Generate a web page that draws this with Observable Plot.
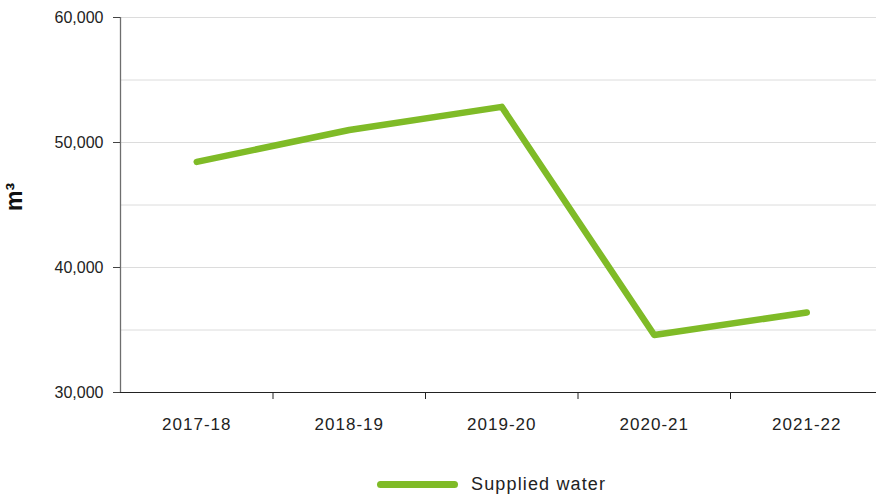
<!DOCTYPE html>
<html>
<head>
<meta charset="utf-8">
<script src="https://cdn.jsdelivr.net/npm/d3@7"></script>
<script src="https://cdn.jsdelivr.net/npm/@observablehq/plot@0.6"></script>
<style>
  html, body { margin: 0; padding: 0; background: #fff; overflow: hidden; }
  body { font-family: "Liberation Sans", Arial, Helvetica, sans-serif; }
  #legend { height: 34px; display: flex; align-items: center; padding-left: 377px; color: #222; }
  #legend .sw { display: inline-block; width: 81px; height: 7px; border-radius: 4px; background: #7fbb27; }
  #legend .lb { margin-left: 13px; font-size: 18px; letter-spacing: 1.15px; }
  g[aria-label="x-axis tick label"] text { letter-spacing: 1px; }
</style>
</head>
<body>
<div id="chart"></div>
<div id="legend"><span class="sw"></span><span class="lb">Supplied water</span></div>
<script>
const categories = ["2017-18", "2018-19", "2019-20", "2020-21", "2021-22"];
const suppliedWater = [48450, 51000, 52850, 34600, 36400];
const yTickValues = [30000, 40000, 50000, 60000];
const yGridValues = [35000, 40000, 45000, 50000, 55000, 60000];
const seriesName = "Supplied water";
const yLabel = "m³";

const data = categories.map((c, i) => ({i, category: c, value: suppliedWater[i]}));
const idx = categories.map((_, i) => i);
const boundaries = categories.slice(1).map((_, i) => i + 0.5);
const green = "#7fbb27";

const plot = Plot.plot({
  width: 876,
  height: 467,
  marginTop: 17,
  marginBottom: 75,
  marginLeft: 120,
  marginRight: 0,
  style: {fontFamily: "'Liberation Sans', Arial, Helvetica, sans-serif", color: "#222", background: "#fff", overflow: "visible"},
  x: {type: "linear", domain: [-0.5, categories.length - 0.5], range: [120, 882.5]},
  y: {domain: [30000, 60000]},
  marks: [
    Plot.ruleY(yGridValues, {stroke: "#dcdcdc", strokeWidth: 1}),
    Plot.ruleX([-0.5], {y1: 30000, y2: 60000, stroke: "#6e6e6e", strokeWidth: 1.3}),
    Plot.ruleY([30000], {stroke: "#222", strokeWidth: 1.2}),
    Plot.axisY({ticks: yTickValues, tickFormat: d3.format(","), tickSize: 7, tickPadding: 10, fontSize: 16, label: null, stroke: "#444"}),
    Plot.axisX({ticks: boundaries, tickFormat: () => "", tickSize: 7, label: null, stroke: "#222"}),
    Plot.axisX({ticks: idx, tickFormat: i => categories[i], tickSize: 0, tickPadding: 25, fontSize: 17, label: null}),
    Plot.line(data, {x: "i", y: "value", stroke: green, strokeWidth: 6.5, strokeLinejoin: "round", strokeLinecap: "round"}),
    Plot.text([yLabel], {frameAnchor: "left", dx: -106, dy: 6, rotate: -90, text: d => d, fontSize: 23, fontWeight: "bold", fill: "#111"})
  ]
});
document.getElementById("chart").appendChild(plot);
</script>
</body>
</html>
